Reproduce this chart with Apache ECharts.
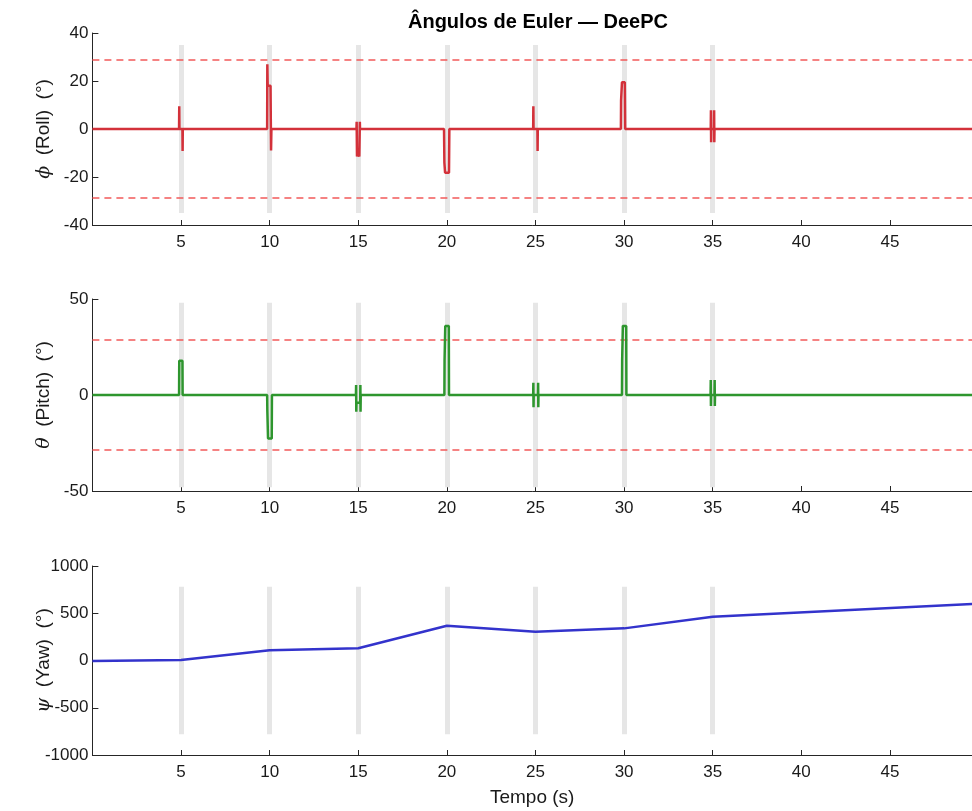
<!DOCTYPE html>
<html>
<head>
<meta charset="utf-8">
<script src="https://cdn.jsdelivr.net/npm/echarts@6/dist/echarts.min.js"></script>
<style>
  html, body { margin: 0; padding: 0; background: #fff; }
  #chart { width: 972px; height: 811px; }
</style>
</head>
<body>
<div id="chart"></div>
<script>
// event times (gray bars) and limits
const eventTimes = [5, 10, 15, 20, 25, 30, 35];
const angleLimit = 28.65;
const barHalf = [35, 48, 780];
const tMax = 49.63; // visible right edge of the plot (figure is cropped)

// roll angle (deg) — [t, value]
const rollData = [
  [0, 0],
  [4.89, 0], [4.9, 9.5], [4.91, 0], [5.08, 0], [5.09, -9.2], [5.1, 0],
  [9.86, 0], [9.87, 27], [9.89, 18], [10.05, 18], [10.08, -9], [10.1, 0],
  [14.9, 0], [14.91, 3], [14.93, -11.5], [14.97, -11.5], [14.98, -9], [15.05, -9],
  [15.06, -11.5], [15.09, 3], [15.1, 0],
  [19.84, 0], [19.86, -14], [19.9, -18.2], [20.12, -18.2], [20.14, 0],
  [24.87, 0], [24.88, 9.5], [24.89, 0], [25.11, 0], [25.12, -9.2], [25.13, 0],
  [29.82, 0], [29.83, 12], [29.87, 12], [29.88, 19.5], [30.04, 19.5], [30.06, 0],
  [34.89, 0], [34.9, 7.8], [34.91, -5.5], [34.92, 0], [35.07, 0], [35.08, 7.8],
  [35.09, -5.5], [35.1, 0],
  [50, 0]
];

// pitch angle (deg)
const pitchData = [
  [0, 0],
  [4.89, 0], [4.9, 17.8], [5.08, 17.8], [5.09, 0],
  [9.86, 0], [9.87, -8], [9.9, -8], [9.91, -22.6], [10.12, -22.6], [10.13, 0],
  [14.87, 0], [14.88, 5.2], [14.89, -8.7], [14.9, -4], [15.11, -4], [15.12, 5.2],
  [15.13, -8.7], [15.14, 0],
  [19.86, 0], [19.87, 18], [19.9, 18], [19.91, 35.9], [20.11, 35.9], [20.12, 0],
  [24.87, 0], [24.88, 6.4], [24.89, -6.4], [24.9, 0], [25.14, 0], [25.15, 6.4],
  [25.16, -6.4], [25.17, 0],
  [29.88, 0], [29.89, 18], [29.92, 18], [29.93, 36], [30.12, 36], [30.13, 0],
  [34.88, 0], [34.89, 7.8], [34.9, -5.7], [34.91, 0], [35.1, 0], [35.11, 7.8],
  [35.12, -5.7], [35.13, 0],
  [50, 0]
];

// yaw angle (deg)
const yawData = [
  [0, -5], [5, 5], [10, 108], [15, 129], [20, 368], [25, 305], [30, 340], [35, 463], [50, 602]
];

const yRanges = [
  { min: -40, max: 40, interval: 20 },
  { min: -50, max: 50, interval: 50 },
  { min: -1000, max: 1000, interval: 500 }
];

const axisColor = '#262626';
const font = 'Liberation Sans, Arial, Helvetica, sans-serif';

const grids = [
  { left: 92.4, right: 0, top: 33, height: 192, outerBoundsMode: 'none' },
  { left: 92.4, right: 0, top: 299, height: 192, outerBoundsMode: 'none' },
  { left: 92.4, right: 0, top: 566, height: 189, outerBoundsMode: 'none' }
];

const yNames = [
  ['ϕ', 'Roll'],
  ['θ', 'Pitch'],
  ['ψ', 'Yaw']
];

const xAxes = grids.map((g, i) => ({
  type: 'value',
  gridIndex: i,
  min: 0,
  max: tMax,
  interval: 5,
  name: i === 2 ? 'Tempo (s)' : '',
  nameLocation: 'middle',
  nameGap: 33,
  nameTextStyle: { color: '#1a1a1a', fontSize: 19, fontFamily: font },
  axisLine: { show: true, onZero: false, lineStyle: { color: axisColor, width: 1 } },
  axisTick: { show: true, inside: true, length: 5, lineStyle: { color: axisColor } },
  axisLabel: {
    color: '#1a1a1a', fontSize: 17, fontFamily: font, margin: 9,
    formatter: v => (v === 0 || v % 5 !== 0 ? '' : String(v))
  },
  splitLine: { show: false }
}));

const yAxes = grids.map((g, i) => ({
  type: 'value',
  gridIndex: i,
  min: yRanges[i].min,
  max: yRanges[i].max,
  interval: yRanges[i].interval,
  name: '{s|' + yNames[i][0] + '}  (' + yNames[i][1] + ')  (°)',
  nameLocation: 'middle',
  nameRotate: 90,
  nameGap: 39,
  nameMoveOverlap: false,
  nameTextStyle: {
    color: '#1a1a1a', fontSize: 19, fontFamily: font,
    rich: { s: { fontStyle: 'italic', fontSize: 19, fontFamily: 'DejaVu Serif, serif', color: '#1a1a1a' } }
  },
  axisLine: { show: true, onZero: false, lineStyle: { color: axisColor, width: 1 } },
  axisTick: { show: true, inside: true, length: 6, lineStyle: { color: axisColor } },
  axisLabel: {
    color: '#1a1a1a', fontSize: 17, fontFamily: font, margin: 4,
    formatter: v => String(v)
  },
  splitLine: { show: false }
}));

const series = [];
const dataSets = [rollData, pitchData, yawData];
const colors = ['#d3313a', '#2e962e', '#3333cc'];

grids.forEach((g, i) => {
  // gray event bars
  series.push({
    type: 'line',
    xAxisIndex: i,
    yAxisIndex: i,
    data: [],
    z: 1,
    silent: true,
    markLine: {
      z: 1,
      symbol: ['none', 'none'],
      silent: true,
      animation: false,
      label: { show: false },
      lineStyle: { color: '#e6e6e6', width: 5, type: 'solid' },
      data: eventTimes.map(t => [
        { coord: [t, -barHalf[i]] },
        { coord: [t, barHalf[i]] }
      ])
    }
  });
  // dashed limits
  if (i < 2) {
    series.push({
      type: 'line',
      xAxisIndex: i,
      yAxisIndex: i,
      data: [],
      z: 2,
      silent: true,
      markLine: {
        z: 2,
        symbol: ['none', 'none'],
        silent: true,
        animation: false,
        label: { show: false },
        lineStyle: { color: '#f25a5a', width: 1.5, type: [7, 5] },
        data: [{ yAxis: angleLimit }, { yAxis: -angleLimit }]
      }
    });
  }
  series.push({
    type: 'line',
    xAxisIndex: i,
    yAxisIndex: i,
    data: dataSets[i],
    z: 10,
    showSymbol: false,
    sampling: null,
    lineStyle: { color: colors[i], width: 2.5, join: 'bevel' },
    itemStyle: { color: colors[i] }
  });
});

const option = {
  animation: false,
  backgroundColor: '#ffffff',
  title: {
    text: 'Ângulos de Euler — DeePC',
    left: 533,
    textAlign: 'center',
    top: 7,
    textStyle: { fontSize: 20, fontWeight: 'bold', color: '#000', fontFamily: font }
  },
  grid: grids,
  xAxis: xAxes,
  yAxis: yAxes,
  series
};

echarts.init(document.getElementById('chart'), null, { renderer: 'canvas' }).setOption(option);
</script>
</body>
</html>
